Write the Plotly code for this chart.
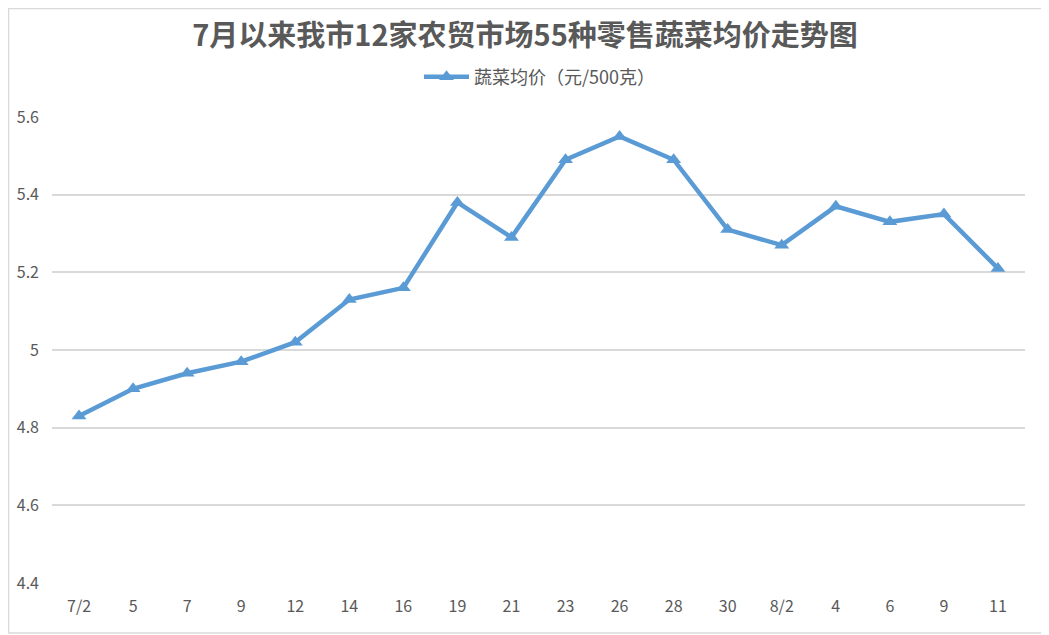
import plotly.graph_objects as go

categories = ["7/2", "5", "7", "9", "12", "14", "16", "19", "21", "23", "26", "28", "30", "8/2", "4", "6", "9", "11"]
prices = [4.83, 4.90, 4.94, 4.97, 5.02, 5.13, 5.16, 5.38, 5.29, 5.49, 5.55, 5.49, 5.31, 5.27, 5.37, 5.33, 5.35, 5.21]
y_ticks = [4.4, 4.6, 4.8, 5.0, 5.2, 5.4, 5.6]
y_ticktext = ["4.4", "4.6", "4.8", "5", "5.2", "5.4", "5.6"]

idx = list(range(len(categories)))
color = "#5B9BD5"
font_fam = "Liberation Sans Narrow, Noto Sans CJK SC, sans-serif"

# page body has an 8px margin; the figure is sized/positioned to compensate
W, H = 1041, 627
L, R, T, B = 44, 24, 109, 52
pw, ph = W - L - R, H - T - B

fig = go.Figure()
fig.add_trace(go.Scatter(
    x=idx, y=prices, mode="lines+markers",
    name="蔬菜均价（元/500克）",
    line=dict(color=color, width=4.5),
    marker=dict(symbol="triangle-up", size=13, color=color),
))

fig.update_layout(
    width=W, height=H,
    margin=dict(l=L, r=R, t=T, b=B),
    paper_bgcolor="white", plot_bgcolor="white",
    title=dict(text="<b>7月以来我市12家农贸市场55种零售蔬菜均价走势图</b>",
               x=(525 - 8) / W, xref="container", xanchor="center",
               y=1 - (36 - 8) / H, yref="container", yanchor="middle",
               font=dict(family="Noto Sans CJK SC, sans-serif", size=29, color="#595959")),
    showlegend=True,
    legend=dict(orientation="h", x=(540 - 8 - L) / pw, xanchor="center",
                y=(T + ph - (77 - 8)) / ph - 0.0, yanchor="middle", itemwidth=45,
                font=dict(family="Noto Sans CJK SC, sans-serif", size=18, color="#595959")),
    xaxis=dict(range=[-0.5, len(categories) - 0.5], tickmode="array", tickvals=idx,
               ticktext=categories, showgrid=False, zeroline=False, showline=False,
               ticks="", ticklabelstandoff=12,
               tickfont=dict(family=font_fam, size=16, color="#595959")),
    yaxis=dict(range=[4.4, 5.6], tickmode="array", tickvals=y_ticks, ticktext=y_ticktext,
               showgrid=True, gridcolor="#D9D9D9", gridwidth=1.5, zeroline=False,
               showline=False, ticks="", ticklabelstandoff=12,
               tickfont=dict(family=font_fam, size=16, color="#595959")),
    shapes=[dict(type="rect", xref="paper", yref="paper",
                 x0=-L / pw + 0.5 / pw, x1=1 + (R - 2) / pw,
                 y0=-(B - 2) / ph, y1=1 + (T - 0.5) / ph,
                 line=dict(color="#D9D9D9", width=1.5), fillcolor="rgba(0,0,0,0)", layer="below")],
)
fig.update_yaxes(automargin=False)
fig.update_xaxes(automargin=False)

fig.write_html("out.html")
